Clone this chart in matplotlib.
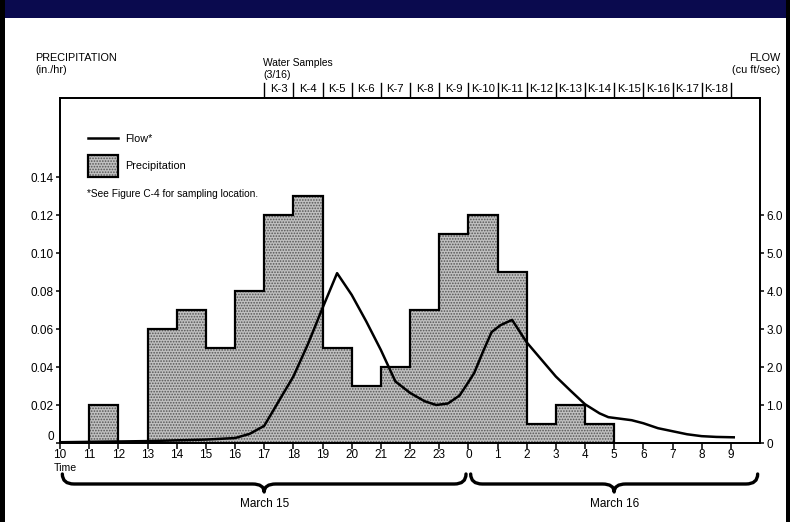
import matplotlib
matplotlib.use("Agg")
import matplotlib.pyplot as plt
from matplotlib.path import Path
from matplotlib.patches import PathPatch, Rectangle
from matplotlib.lines import Line2D
import matplotlib.transforms as mtransforms

plt.rcParams['font.family'] = ['Liberation Sans Narrow', 'Liberation Sans', 'DejaVu Sans']
plt.rcParams['hatch.linewidth'] = 0.8

# ---------------- data ----------------
hour_ticks = list(range(10, 34))
hour_labels = [str(h % 24) for h in hour_ticks]

precip_edges = list(range(11, 30))
precip_values = [0.02, 0.0, 0.06, 0.07, 0.05, 0.08, 0.12, 0.13, 0.05, 0.03,
                 0.04, 0.07, 0.11, 0.12, 0.09, 0.01, 0.02, 0.01]

flow_hours = [10, 11, 12, 13, 14, 15, 16, 16.5, 17.0, 17.5, 18.0, 18.5, 19.0, 19.5,
              20.0, 20.5, 21.0, 21.5, 22.0, 22.5, 22.9, 23.3, 23.7, 24.0, 24.2, 24.5,
              24.8, 25.1, 25.5, 26.0, 26.5, 27.0, 27.5, 28.0, 28.5, 28.8, 29.2, 29.6,
              30.0, 30.5, 31.0, 31.5, 32.0, 32.5, 33.1]
flow_values = [0.02, 0.03, 0.04, 0.05, 0.07, 0.09, 0.13, 0.24, 0.45, 1.1, 1.75, 2.6, 3.55, 4.47,
               3.9, 3.2, 2.45, 1.62, 1.32, 1.1, 1.0, 1.04, 1.25, 1.6, 1.84, 2.4,
               2.92, 3.1, 3.24, 2.65, 2.2, 1.75, 1.38, 1.02, 0.78, 0.68, 0.64, 0.6,
               0.52, 0.39, 0.31, 0.23, 0.18, 0.16, 0.15]

precip_ticks = [0, 0.02, 0.04, 0.06, 0.08, 0.10, 0.12, 0.14]
precip_tick_labels = ['0', '0.02', '0.04', '0.06', '0.08', '0.10', '0.12', '0.14']
flow_ticks = [0, 1, 2, 3, 4, 5, 6]
flow_tick_labels = ['0', '1.0', '2.0', '3.0', '4.0', '5.0', '6.0']

sample_labels = ['K-3', 'K-4', 'K-5', 'K-6', 'K-7', 'K-8', 'K-9', 'K-10', 'K-11',
                 'K-12', 'K-13', 'K-14', 'K-15', 'K-16', 'K-17', 'K-18']
sample_start_hour = 17

days = ['March 15', 'March 16']
day_spans = [(10, 24), (24, 34)]

# ---------------- figure ----------------
W, H = 790, 522
fig = plt.figure(figsize=(W / 100, H / 100), dpi=100)
fig.patch.set_facecolor('white')

def fx(px):
    return px / W

def fy(py):
    return 1 - py / H

ax_l, ax_r, ax_t, ax_b = 60, 760, 98, 443
ax = fig.add_axes([fx(ax_l), fy(ax_b), fx(ax_r) - fx(ax_l), fy(ax_t) - fy(ax_b)])
ymax = 0.1816
ax.set_xlim(10, 34)
ax.set_ylim(0, ymax)

fill_color = '#c0c0c0'
hatch_color = '#555555'

# precipitation stairs
ax.stairs(precip_values, precip_edges, fill=True, facecolor=fill_color,
          edgecolor=hatch_color, linewidth=0, hatch='......', zorder=2)
ax.stairs(precip_values, precip_edges, fill=False, edgecolor='black',
          linewidth=1.6, baseline=0, zorder=3)

ax2 = ax.twinx()
ax2.set_ylim(0, ymax * 50)
ax2.plot(flow_hours, flow_values, color='black', linewidth=1.8, zorder=4)

# spines / ticks
tfs = 8.5
for a in (ax, ax2):
    for s in a.spines.values():
        s.set_linewidth(1.3)
ax.set_xticks(hour_ticks)
ax.set_xticklabels(hour_labels, fontsize=tfs)
ax.tick_params(axis='x', direction='out', length=4, width=1.1, pad=0.5)
ax.set_yticks(precip_ticks)
ax.set_yticklabels(precip_tick_labels, fontsize=tfs)
ax.tick_params(axis='y', direction='out', length=3, width=1.1, pad=1.5)
for lab in ax.get_yticklabels()[:1]:
    lab.set_va('bottom')
ax2.set_yticks(flow_ticks)
ax2.set_yticklabels(flow_tick_labels, fontsize=tfs)
ax2.tick_params(axis='y', direction='out', length=3, width=1.1, pad=1.5)

# header texts
fs = 7.8
fig.text(fx(35), fy(58), 'PRECIPITATION', fontsize=fs, va='center', ha='left')
fig.text(fx(35), fy(70), '(in./hr)', fontsize=fs, va='center', ha='left')
fig.text(fx(780), fy(58), 'FLOW', fontsize=fs, va='center', ha='right')
fig.text(fx(780), fy(70), '(cu ft/sec)', fontsize=fs, va='center', ha='right')
fig.text(fx(263), fy(63), 'Water Samples', fontsize=7.4, va='center', ha='left')
fig.text(fx(263), fy(75), '(3/16)', fontsize=7.6, va='center', ha='left')

# sample row
btr = mtransforms.blended_transform_factory(ax.transData, fig.transFigure)
n = len(sample_labels)
for i in range(n + 1):
    h = sample_start_hour + i
    fig.add_artist(Line2D([h, h], [fy(83), fy(96)], transform=btr, color='black', linewidth=1.0))
for i, lab in enumerate(sample_labels):
    h = sample_start_hour + i + 0.5
    fig.text(h, fy(89.5), lab, transform=btr, fontsize=8.2, ha='center', va='center')

# legend
fig.add_artist(Line2D([fx(88), fx(118)], [fy(138), fy(138)], color='black', linewidth=1.8))
fig.text(fx(125), fy(139), 'Flow*', fontsize=fs, va='center', ha='left')
fig.add_artist(Rectangle((fx(88), fy(177)), fx(118) - fx(88), fy(155) - fy(177),
                         transform=fig.transFigure, facecolor=fill_color, hatch='......',
                         edgecolor=hatch_color, linewidth=0))
fig.add_artist(Rectangle((fx(88), fy(177)), fx(118) - fx(88), fy(155) - fy(177),
                         transform=fig.transFigure, fill=False, edgecolor='black', linewidth=1.6))
fig.text(fx(125), fy(166), 'Precipitation', fontsize=fs, va='center', ha='left')
fig.text(fx(87), fy(194), '*See Figure C-4 for sampling location.', fontsize=7.3,
         va='center', ha='left')

# time label
fig.text(fx(54), fy(468), 'Time', fontsize=7.6, va='center', ha='left')

# braces
def brace(x0, x1, xm, y_top, y_mid, y_tip, r):
    verts = [(x0, y_top), (x0, y_mid), (x0 + r, y_mid),
             (xm - r, y_mid),
             (xm, y_mid), (xm, y_tip),
             (xm, y_mid), (xm + r, y_mid),
             (x1 - r, y_mid),
             (x1, y_mid), (x1, y_top)]
    codes = [Path.MOVETO, Path.CURVE3, Path.CURVE3,
             Path.LINETO,
             Path.CURVE3, Path.CURVE3,
             Path.CURVE3, Path.CURVE3,
             Path.LINETO,
             Path.CURVE3, Path.CURVE3]
    return Path(verts, codes)

for (a, b), lab in zip(day_spans, days):
    xm = (a + b) / 2
    p = brace(a + 0.08, b - 0.08, xm, fy(474), fy(484), fy(492), 0.4)
    fig.add_artist(PathPatch(p, transform=btr, fill=False, edgecolor='black',
                             linewidth=2.4, capstyle='round', joinstyle='round'))
    fig.text(xm, fy(504), lab, transform=btr, fontsize=8.5, ha='center', va='center')

# frame decoration
fig.add_artist(Rectangle((fx(4), fy(18)), 1 - fx(4), fy(0) - fy(18), transform=fig.transFigure,
                         facecolor='#0a0a4e', edgecolor='none'))
fig.add_artist(Rectangle((0, 0), fx(5), 1, transform=fig.transFigure,
                         facecolor='black', edgecolor='none'))
fig.add_artist(Rectangle((fx(786), 0), fx(4), 1, transform=fig.transFigure,
                         facecolor='black', edgecolor='none'))

fig.savefig('out.png', dpi=100)
